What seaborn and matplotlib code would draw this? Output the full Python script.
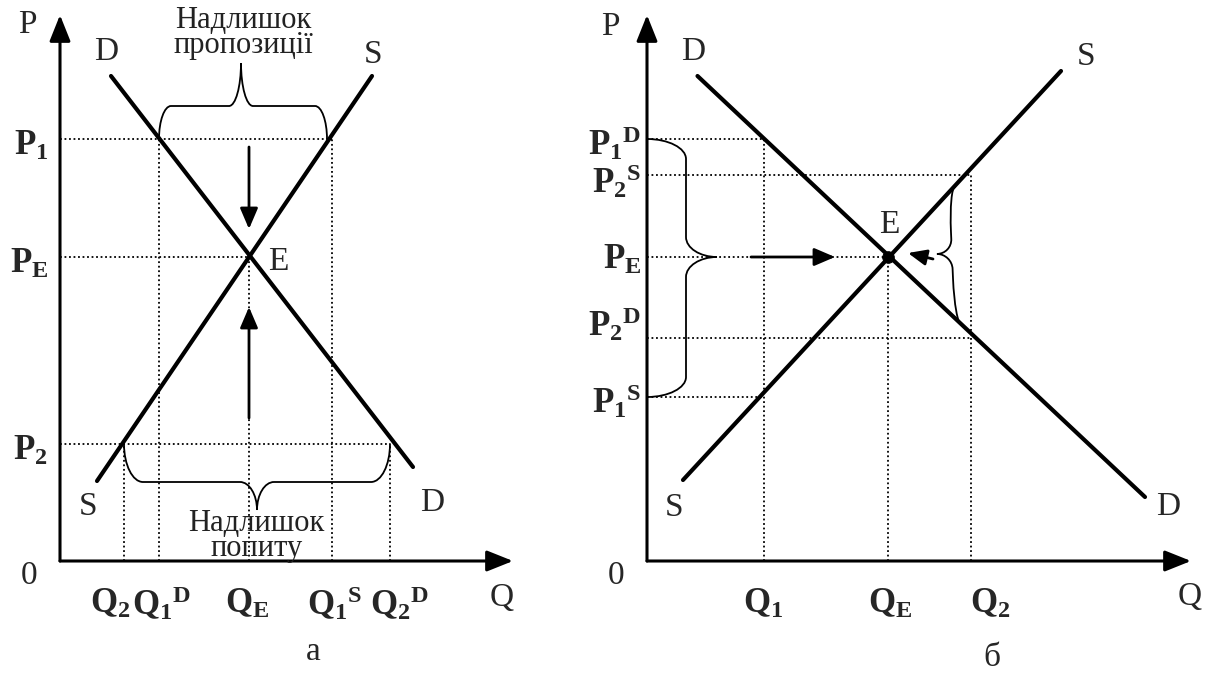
import matplotlib
matplotlib.use('Agg')
import matplotlib.pyplot as plt
from matplotlib.path import Path
from matplotlib.patches import PathPatch
import seaborn as sns
import numpy as np

##################################################################################
# Data (units of the diagram)
##################################################################################
# panel "a": surplus of supply / surplus of demand
A_DEMAND_Q = [1.02, 7.06]
A_DEMAND_P = [9.70, 1.88]
A_SUPPLY_Q = [0.74, 6.24]
A_SUPPLY_P = [1.60, 9.70]
A_Q_TICKS = [1.28, 1.98, 3.78, 5.44, 6.60]
A_Q_TOP = [2.34, 8.44, 6.08, 8.44, 2.34]
A_Q_LABELS = [r'$\mathbf{Q_2}$', r'$\mathbf{Q_1{}^D}$', r'$\mathbf{Q_E}$',
              r'$\mathbf{Q_1{}^S}$', r'$\mathbf{Q_2{}^D}$']
A_P_TICKS = [8.44, 6.08, 2.34]
A_P_RIGHT = [5.44, 3.78, 6.60]
A_P_LABELS = [r'$\mathbf{P_1}$', r'$\mathbf{P_E}$', r'$\mathbf{P_2}$']

# panel "б": adjustment to equilibrium
B_DEMAND_Q = [1.01, 9.96]
B_DEMAND_P = [9.70, 1.28]
B_SUPPLY_Q = [0.72, 8.28]
B_SUPPLY_P = [1.62, 9.80]
B_Q_TICKS = [2.34, 4.82, 6.48]
B_Q_TOP = [8.44, 6.08, 7.72]
B_Q_LABELS = [r'$\mathbf{Q_1}$', r'$\mathbf{Q_E}$', r'$\mathbf{Q_2}$']
B_P_TICKS = [8.44, 7.72, 6.08, 4.46, 3.28]
B_P_RIGHT = [2.34, 6.48, 4.82, 6.48, 2.34]
B_P_LABELS = [r'$\mathbf{P_1{}^D}$', r'$\mathbf{P_2{}^S}$', r'$\mathbf{P_E}$',
              r'$\mathbf{P_2{}^D}$', r'$\mathbf{P_1{}^S}$']
B_EQ_Q = [4.82]
B_EQ_P = [6.08]

##################################################################################
# Style
##################################################################################
sns.set_style('white')
plt.rcParams['font.family'] = ['Liberation Serif', 'DejaVu Serif']
plt.rcParams['mathtext.fontset'] = 'custom'
plt.rcParams['mathtext.rm'] = 'Liberation Serif'
plt.rcParams['mathtext.bf'] = 'Liberation Serif:bold'
plt.rcParams['mathtext.it'] = 'Liberation Serif:italic'

FS = 24       # plain letters
FS_B = 25     # bold tick labels
FS_T = 22     # captions over braces
LW_CURVE = 3.0
DOT = dict(colors='black', linestyles=(0, (1, 1.5)), linewidth=1.3)


def brace(ax, a, b, n, s, ut, t, r_end, r_tip, lw=1.3):
    # curly brace from a to b, spine at depth s, tip at (ut, t) along normal n
    a = np.asarray(a, float)
    b = np.asarray(b, float)
    L = np.linalg.norm(b - a)
    e = (b - a) / L
    n = np.asarray(n, float)
    k = 0.55

    def P(u, v):
        return a + e * u + n * v

    verts = [P(0, 0),
             P(0, k * s), P(r_end - k * r_end, s), P(r_end, s),
             P(ut - r_tip, s),
             P(ut - r_tip + k * r_tip, s), P(ut, t - k * (t - s)), P(ut, t),
             P(ut, t - k * (t - s)), P(ut + r_tip - k * r_tip, s), P(ut + r_tip, s),
             P(L - r_end, s),
             P(L - r_end + k * r_end, s), P(L, k * s), P(L, 0)]
    codes = [Path.MOVETO,
             Path.CURVE4, Path.CURVE4, Path.CURVE4,
             Path.LINETO,
             Path.CURVE4, Path.CURVE4, Path.CURVE4,
             Path.CURVE4, Path.CURVE4, Path.CURVE4,
             Path.LINETO,
             Path.CURVE4, Path.CURVE4, Path.CURVE4]
    ax.add_patch(PathPatch(Path(verts, codes), fill=False, lw=lw,
                           edgecolor='black', capstyle='round'))


def arrow(ax, start, end, lw=2.0, scale=20, hl=0.7, hw=0.3):
    ax.annotate('', xy=end, xytext=start,
                arrowprops=dict(arrowstyle='-|>,head_length=%g,head_width=%g' % (hl, hw),
                                lw=lw, color='black', mutation_scale=scale,
                                shrinkA=0, shrinkB=0))


def frame(ax, xmax, ymax):
    arrow(ax, (0, 0), (0, ymax), lw=2.2, scale=20, hl=0.8, hw=0.32)
    arrow(ax, (0, 0), (xmax, 0), lw=2.2, scale=20, hl=0.8, hw=0.32)
    ax.text(-0.62, -0.3, '0', fontsize=FS, ha='center', va='center')


fig = plt.figure(figsize=(12.09, 6.73), dpi=100)
axA = fig.add_axes([0, 0, 600 / 1209, 1])
axB = fig.add_axes([600 / 1209, 0, 609 / 1209, 1])
axA.set_xlim(-1.2, 10.8)
axA.set_ylim(-2.24, 11.22)
axB.set_xlim(-0.94, 11.24)
axB.set_ylim(-2.24, 11.22)
for ax in (axA, axB):
    ax.axis('off')

##################################################################################
# Panel a
##################################################################################
axA.hlines(A_P_TICKS, 0, A_P_RIGHT, **DOT)
axA.vlines(A_Q_TICKS, 0, A_Q_TOP, **DOT)
sns.lineplot(x=A_DEMAND_Q, y=A_DEMAND_P, ax=axA, color='black', lw=LW_CURVE, sort=False)
sns.lineplot(x=A_SUPPLY_Q, y=A_SUPPLY_P, ax=axA, color='black', lw=LW_CURVE, sort=False)
frame(axA, 9.06, 10.92)

# arrows towards the equilibrium price
arrow(axA, (A_Q_TICKS[2], 8.28), (A_Q_TICKS[2], 6.64), lw=2.0, scale=18)
arrow(axA, (A_Q_TICKS[2], 2.86), (A_Q_TICKS[2], 5.08), lw=2.0, scale=18)

# braces
brace(axA, (A_Q_TICKS[1], A_P_TICKS[0]), (5.34, A_P_TICKS[0]), (0, 1),
      s=0.66, ut=1.64, t=1.52, r_end=0.24, r_tip=0.24)
brace(axA, (A_Q_TICKS[0], A_P_TICKS[2]), (A_Q_TICKS[4], A_P_TICKS[2]), (0, -1),
      s=0.76, ut=2.66, t=1.32, r_end=0.38, r_tip=0.34)

axA.text(3.66, 10.56, 'Надлишок\nпропозиції', fontsize=FS_T, ha='center', va='center',
         multialignment='center', linespacing=0.82, color='#222222')
axA.text(3.93, 0.50, 'Надлишок\nпопиту', fontsize=FS_T, ha='center', va='center',
         multialignment='center', linespacing=0.82, color='#222222')

axA.text(-0.66, 10.72, 'P', fontsize=FS, ha='center', va='center')
axA.text(0.92, 10.18, 'D', fontsize=FS, ha='center', va='center')
axA.text(6.26, 10.12, 'S', fontsize=FS, ha='center', va='center')
axA.text(0.56, 1.08, 'S', fontsize=FS, ha='center', va='center')
axA.text(7.44, 1.16, 'D', fontsize=FS, ha='center', va='center')
axA.text(4.36, 5.98, 'E', fontsize=FS, ha='center', va='center')
axA.text(8.84, -0.74, 'Q', fontsize=FS, ha='center', va='center')
axA.text(5.06, -1.82, 'а', fontsize=FS, ha='center', va='center')

for p, lab in zip(A_P_TICKS, A_P_LABELS):
    axA.text(-0.24, p - 0.14, lab, fontsize=FS_B, ha='right', va='center')
q_pos = [(1.40, 'right'), (1.44, 'left'), (3.74, 'center'), (4.94, 'left'), (6.20, 'left')]
for (x, ha), lab in zip(q_pos, A_Q_LABELS):
    axA.text(x, -0.86, lab, fontsize=FS_B, ha=ha, va='center')

##################################################################################
# Panel б
##################################################################################
axB.hlines(B_P_TICKS, 0, B_P_RIGHT, **DOT)
axB.vlines(B_Q_TICKS, 0, B_Q_TOP, **DOT)
sns.lineplot(x=B_DEMAND_Q, y=B_DEMAND_P, ax=axB, color='black', lw=LW_CURVE, sort=False)
sns.lineplot(x=B_SUPPLY_Q, y=B_SUPPLY_P, ax=axB, color='black', lw=LW_CURVE, sort=False)
sns.scatterplot(x=B_EQ_Q, y=B_EQ_P, ax=axB, color='black', s=70, edgecolor='black', zorder=5)
frame(axB, 10.88, 10.92)

arrow(axB, (2.08, B_P_TICKS[2]), (3.76, B_P_TICKS[2]), lw=2.0, scale=18)
arrow(axB, (5.72, 6.04), (5.22, 6.16), lw=2.0, scale=16)

brace(axB, (0, B_P_TICKS[0]), (0, B_P_TICKS[4]), (1, 0),
      s=0.78, ut=2.36, t=1.40, r_end=0.40, r_tip=0.40)
brace(axB, (6.16, 7.48), (6.28, 4.74), (-1, 0),
      s=0.12, ut=1.34, t=0.42, r_end=0.9, r_tip=0.3)

axB.text(-0.74, 10.68, 'P', fontsize=FS, ha='center', va='center')
axB.text(0.92, 10.18, 'D', fontsize=FS, ha='center', va='center')
axB.text(8.78, 10.08, 'S', fontsize=FS, ha='center', va='center')
axB.text(0.54, 1.06, 'S', fontsize=FS, ha='center', va='center')
axB.text(10.42, 1.08, 'D', fontsize=FS, ha='center', va='center')
axB.text(4.84, 6.72, 'E', fontsize=FS, ha='center', va='center')
axB.text(10.86, -0.72, 'Q', fontsize=FS, ha='center', va='center')
axB.text(6.90, -1.94, 'б', fontsize=FS, ha='center', va='center')

p_pos = [8.34, 7.58, 6.02, 4.72, 3.18]
for y, lab in zip(p_pos, B_P_LABELS):
    axB.text(-0.12, y, lab, fontsize=FS_B, ha='right', va='center')
for x, lab in zip([2.32, 4.86, 6.86], B_Q_LABELS):
    axB.text(x, -0.86, lab, fontsize=FS_B, ha='center', va='center')

fig.savefig('out.png', dpi=100)
